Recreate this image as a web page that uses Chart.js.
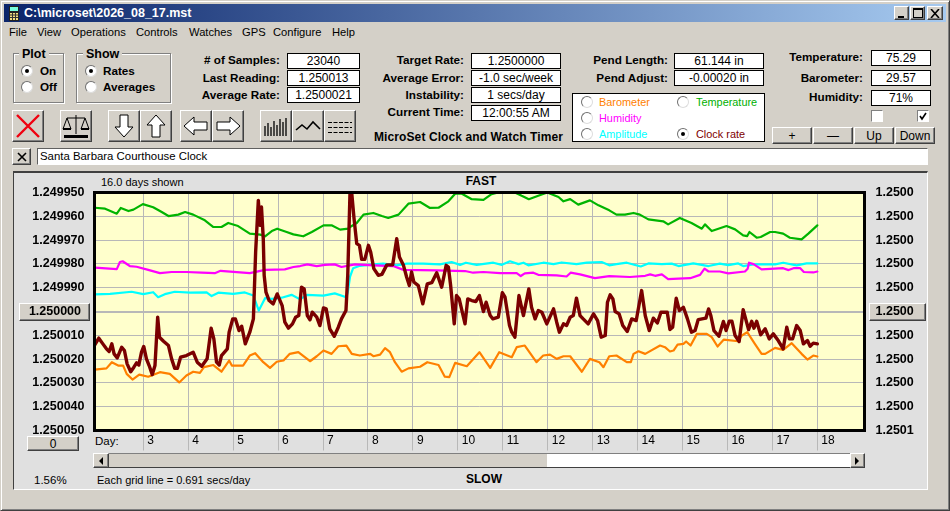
<!DOCTYPE html>
<html><head><meta charset="utf-8">
<script src="https://cdn.jsdelivr.net/npm/chart.js@4/dist/chart.umd.min.js"></script>
<style>
html,body{margin:0;padding:0;background:#d4d0c8;overflow:hidden}
#win{position:absolute;left:0;top:0;width:950px;height:511px;overflow:hidden;background:#d4d0c8;font:12px "Liberation Sans",Arial,sans-serif;color:#000}
#win div,#win span{position:absolute;white-space:nowrap;box-sizing:border-box}
canvas{position:absolute;left:0;top:0;pointer-events:none}
.btn{background:#d4d0c8;border:1px solid;border-color:#fff #404040 #404040 #fff;box-shadow:inset -1px -1px 0 #808080;display:flex;align-items:center;justify-content:center}
.fld{background:#fff;border:1px solid #000;text-align:center}
</style></head>
<body><div id="win"></div>
<canvas id="c" width="950" height="511"></canvas>
<script>
// Values: [day, rate offset from 1.25 in millionths]
const clockRate=[[1.92,14.0],[2.01,11.2],[2.10,13.6],[2.18,15.7],[2.24,16.8],[2.30,13.6],[2.35,17.8],[2.42,19.5],[2.52,15.0],[2.58,16.4],[2.64,22.0],[2.72,25.3],[2.79,23.4],[2.85,21.6],[2.90,22.5],[2.96,17.1],[3.01,14.7],[3.07,19.9],[3.13,22.7],[3.20,26.5],[3.26,22.7],[3.32,2.4],[3.36,10.8],[3.45,12.5],[3.56,14.3],[3.63,19.9],[3.70,23.9],[3.76,23.9],[3.83,19.2],[3.96,18.5],[4.11,17.1],[4.20,21.3],[4.30,23.0],[4.42,19.9],[4.51,7.0],[4.57,11.5],[4.63,21.3],[4.69,22.5],[4.74,18.5],[4.87,15.7],[4.91,8.7],[4.99,3.1],[5.05,3.1],[5.13,8.0],[5.19,6.2],[5.27,13.6],[5.37,8.7],[5.45,3.1],[5.50,-25.0],[5.56,-46.7],[5.60,-36.2],[5.63,-43.9],[5.67,-30.6],[5.69,-15.2],[5.73,-8.1],[5.80,-4.6],[5.89,-3.2],[5.98,-7.4],[6.09,-2.5],[6.15,4.5],[6.23,7.0],[6.32,5.2],[6.39,2.4],[6.46,1.7],[6.52,-10.2],[6.58,-9.5],[6.65,1.7],[6.71,3.5],[6.76,0.3],[6.86,2.4],[6.93,5.9],[7.01,-1.5],[7.07,-1.1],[7.15,7.3],[7.25,10.4],[7.34,6.6],[7.41,3.1],[7.51,-0.4],[7.55,-15.2],[7.60,-50.0],[7.64,-49.5],[7.69,-39.0],[7.75,-28.5],[7.81,-27.8],[7.86,-21.9],[7.93,-21.9],[8.01,-27.8],[8.06,-25.0],[8.13,-18.0],[8.23,-15.2],[8.31,-15.6],[8.42,-19.6],[8.55,-19.6],[8.64,-30.6],[8.70,-22.9],[8.79,-19.4],[8.86,-14.5],[8.92,-10.9],[8.97,-16.6],[9.02,-12.4],[9.12,-10.9],[9.22,-3.2],[9.32,-11.6],[9.42,-12.1],[9.53,-16.3],[9.64,-10.2],[9.74,-19.4],[9.79,-18.7],[9.84,-10.9],[9.92,5.2],[9.97,-6.7],[10.03,-5.3],[10.16,5.2],[10.22,-5.3],[10.31,-4.6],[10.40,-4.2],[10.48,-6.7],[10.57,0],[10.63,-3.9],[10.72,1.7],[10.78,3.1],[10.90,2.4],[10.99,-7.9],[11.05,-6.0],[11.15,5.9],[11.20,8.7],[11.27,10.8],[11.36,-6.7],[11.46,1.7],[11.58,-9.5],[11.64,-1.8],[11.72,3.1],[11.79,-0.4],[11.87,0.3],[11.98,5.2],[12.13,-1.1],[12.20,4.5],[12.26,8.7],[12.35,5.2],[12.42,5.9],[12.50,2.4],[12.57,1.7],[12.64,-5.6],[12.72,1.7],[12.79,3.1],[12.90,5.2],[13.02,1.0],[13.11,3.8],[13.19,10.8],[13.28,10.1],[13.33,-3.9],[13.39,-7.0],[13.45,-5.3],[13.50,0],[13.59,1.0],[13.67,5.9],[13.77,8.4],[13.87,3.1],[13.97,3.8],[14.09,-8.8],[14.17,1.7],[14.26,8.0],[14.35,2.8],[14.44,4.8],[14.52,0.3],[14.66,0.3],[14.72,7.6],[14.78,6.6],[14.86,-5.6],[14.93,-0.4],[15.02,-1.8],[15.11,3.1],[15.20,8.7],[15.28,8.0],[15.35,3.4],[15.52,2.8],[15.58,-1.1],[15.63,1.7],[15.70,8.0],[15.81,10.4],[15.91,4.2],[15.97,8.0],[16.04,4.1],[16.10,4.1],[16.17,10.1],[16.26,12.6],[16.35,-0.8],[16.47,7.6],[16.54,4.1],[16.59,7.0],[16.65,4.1],[16.74,9.8],[16.84,7.3],[16.93,11.5],[17.02,9.4],[17.13,12.2],[17.24,15.7],[17.32,6.6],[17.38,11.5],[17.45,11.5],[17.54,5.9],[17.62,8.0],[17.69,13.6],[17.78,12.2],[17.84,14.6],[17.91,13.3],[18.00,13.6]];
const temperature=[[1.92,-43.6],[2.15,-43.2],[2.41,-41.1],[2.50,-43.5],[2.67,-42.2],[2.78,-42.8],[2.99,-45.1],[3.22,-43.8],[3.41,-41.8],[3.56,-40.1],[3.78,-40.7],[3.93,-41.8],[4.11,-40.7],[4.37,-38.3],[4.56,-35.5],[4.74,-35.5],[4.89,-37.2],[5.11,-35.9],[5.37,-32.7],[5.60,-32.3],[5.71,-31.6],[5.86,-33.8],[5.98,-34.8],[6.19,-33.4],[6.34,-32.4],[6.56,-31.6],[6.75,-33.4],[7.01,-36.2],[7.19,-36.2],[7.38,-34.4],[7.56,-34.8],[7.60,-35.5],[7.75,-37.2],[7.90,-40.7],[8.12,-41.4],[8.31,-40.1],[8.45,-39.3],[8.68,-40.7],[8.90,-45.3],[9.16,-46.0],[9.38,-43.5],[9.57,-43.6],[9.79,-46.3],[9.94,-49.5],[10.09,-49.5],[10.31,-47.2],[10.57,-46.9],[10.75,-49.3],[10.94,-50.2],[11.27,-50.0],[11.42,-48.6],[11.58,-47.2],[11.79,-48.6],[11.99,-50.0],[12.24,-48.1],[12.35,-46.3],[12.50,-47.2],[12.68,-44.9],[12.94,-46.7],[13.13,-44.6],[13.37,-42.5],[13.53,-40.7],[13.72,-40.7],[13.91,-41.4],[14.05,-40.7],[14.24,-38.7],[14.57,-37.9],[14.68,-36.6],[14.94,-39.3],[15.20,-37.2],[15.43,-34.8],[15.50,-36.6],[15.65,-33.8],[15.98,-35.9],[16.17,-34.5],[16.35,-32.0],[16.44,-31.7],[16.49,-33.4],[16.65,-31.0],[16.74,-31.3],[16.95,-33.4],[17.06,-33.4],[17.24,-32.7],[17.39,-31.0],[17.65,-30.3],[17.80,-32.7],[18.00,-36.2]];
const humidity=[[1.92,-18.4],[2.41,-17.8],[2.48,-20.8],[2.54,-21.1],[2.70,-19.1],[2.85,-18.8],[3.11,-17.5],[3.37,-16.1],[3.63,-16.6],[3.96,-16.6],[4.30,-16.3],[4.59,-16.1],[4.72,-17.1],[5.37,-16.1],[5.71,-17.5],[6.15,-17.7],[6.34,-18.7],[6.49,-19.1],[6.65,-19.8],[6.86,-19.1],[7.04,-19.6],[7.26,-19.8],[7.41,-18.7],[7.71,-19.8],[8.12,-19.4],[8.56,-19.1],[8.79,-17.5],[9.53,-17.3],[10.16,-17.0],[10.34,-16.3],[10.57,-16.6],[10.94,-16.1],[11.31,-16.1],[11.40,-14.9],[11.49,-16.0],[11.68,-16.3],[11.79,-15.4],[12.20,-15.2],[12.42,-14.7],[12.51,-16.3],[12.72,-15.6],[13.05,-14.0],[13.37,-14.9],[13.83,-14.5],[14.17,-15.0],[14.28,-15.6],[14.39,-15.0],[14.54,-15.6],[14.68,-13.6],[14.91,-13.8],[15.17,-14.0],[15.39,-15.4],[15.49,-18.0],[15.58,-16.8],[15.83,-16.8],[16.02,-16.0],[16.39,-16.8],[16.45,-18.0],[16.48,-20.5],[16.58,-19.9],[16.76,-17.7],[17.24,-18.2],[17.36,-17.4],[17.47,-18.2],[17.62,-18.2],[17.70,-16.6],[17.91,-16.4],[18.00,-16.8]];
const amplitude=[[1.92,-7.2],[2.26,-7.4],[2.74,-8.3],[3.00,-7.3],[3.22,-8.1],[3.33,-6.0],[3.48,-7.3],[3.70,-8.3],[4.04,-7.9],[4.41,-8.0],[4.52,-6.5],[4.67,-7.9],[5.00,-7.4],[5.26,-8.0],[5.45,-6.7],[5.57,-0.4],[5.71,-5.6],[5.86,-5.3],[6.08,-5.8],[6.30,-7.0],[6.49,-5.1],[6.64,-7.0],[7.01,-6.7],[7.26,-7.6],[7.52,-6.0],[7.55,-8.1],[7.60,-14.5],[7.67,-18.2],[7.82,-19.2],[8.12,-19.8],[8.34,-20.1],[8.64,-19.4],[8.86,-20.1],[9.23,-20.1],[9.60,-19.8],[9.86,-20.8],[10.05,-19.6],[10.18,-20.5],[10.42,-19.6],[10.79,-20.5],[10.98,-19.6],[11.16,-21.1],[11.35,-19.9],[11.46,-20.5],[11.57,-19.4],[11.90,-20.5],[12.13,-19.9],[12.31,-20.6],[12.64,-19.9],[12.87,-20.5],[13.20,-20.8],[13.37,-19.4],[13.53,-19.9],[13.76,-20.5],[14.07,-18.9],[14.24,-20.2],[14.54,-19.9],[14.76,-20.1],[14.91,-19.1],[15.24,-20.2],[15.58,-19.1],[15.83,-20.1],[16.02,-19.5],[16.24,-20.2],[16.35,-19.1],[16.58,-19.8],[17.06,-19.8],[17.24,-20.5],[17.54,-19.4],[17.76,-20.2],[18.00,-20.2]];
const barometer=[[1.92,24.4],[2.18,23.9],[2.30,21.3],[2.44,22.7],[2.55,22.7],[2.63,26.2],[2.76,28.6],[2.91,26.5],[3.11,27.4],[3.37,25.5],[3.59,26.2],[3.80,29.8],[3.96,26.9],[4.11,25.3],[4.26,25.8],[4.35,23.4],[4.56,22.5],[4.74,25.3],[4.91,20.6],[4.97,22.7],[5.22,22.7],[5.37,18.5],[5.49,17.5],[5.67,21.3],[5.82,23.7],[5.97,21.1],[6.12,20.6],[6.26,17.8],[6.45,17.1],[6.71,20.9],[6.86,18.8],[7.01,16.4],[7.19,17.8],[7.34,14.6],[7.52,14.3],[7.64,17.8],[7.82,18.5],[8.05,17.8],[8.12,18.8],[8.27,18.1],[8.38,15.4],[8.49,17.1],[8.60,21.3],[8.75,25.3],[8.90,23.9],[9.16,23.2],[9.32,21.3],[9.57,22.5],[9.71,27.4],[9.81,27.6],[9.94,21.6],[10.20,23.0],[10.48,17.1],[10.72,23.7],[10.92,17.1],[11.20,19.2],[11.31,15.0],[11.49,14.3],[11.75,21.3],[11.90,18.5],[12.05,18.1],[12.20,19.9],[12.35,18.8],[12.50,18.8],[12.76,25.3],[12.94,19.9],[13.15,21.3],[13.24,23.4],[13.37,18.8],[13.53,18.5],[13.76,21.3],[13.85,21.3],[13.91,17.8],[14.02,16.7],[14.17,17.8],[14.50,14.3],[14.61,15.0],[14.72,16.8],[14.80,16.4],[14.89,13.9],[15.02,13.6],[15.08,12.6],[15.18,14.3],[15.32,9.4],[15.54,9.4],[15.65,10.8],[15.78,14.7],[15.92,11.8],[16.24,12.5],[16.32,10.1],[16.44,8.7],[16.61,13.6],[16.76,17.8],[16.84,17.8],[17.06,15.3],[17.24,16.1],[17.43,13.3],[17.65,17.8],[17.78,20.2],[17.91,18.5],[18.00,18.9]];
const dayTicks=[3,4,5,6,7,8,9,10,11,12,13,14,15,16,17,18];
const leftTickLabels=["1.249950","1.249960","1.249970","1.249980","1.249990","1.250000","1.250010","1.250020","1.250030","1.250040","1.250050"];
const rightTickLabels=["1.2500","1.2500","1.2500","1.2500","1.2500","1.2500","1.2500","1.2500","1.2500","1.2500","1.2501"];
const seriesNames=["Clock rate","Barometer","Temperature","Humidity","Amplitude"];
const rateTicks=leftTickLabels.map(Number);

// ---------- window chrome ----------
const W=document.getElementById('win');
function el(cls,x,y,w,h,html,css){const d=document.createElement('div');if(cls)d.className=cls;
  d.style.cssText=`left:${x}px;top:${y}px;`+(w!=null?`width:${w}px;`:'')+(h!=null?`height:${h}px;`:'')+(css||'');
  if(html!=null)d.innerHTML=html;W.appendChild(d);return d;}
function txt(x,cy,s,css){return el('',x,cy-8,null,16,s,'line-height:16px;'+(css||''));}
function rtxt(rx,cy,s,css){return el('',rx-220,cy-8,220,16,s,'text-align:right;line-height:16px;'+(css||''));}
function ctxt(cx,cy,s,css){return el('',cx-60,cy-8,120,16,s,'text-align:center;line-height:16px;'+(css||''));}
function fld(x1,y1,x2,y2,s){el('fld',x1,y1,x2-x1,y2-y1,s,`line-height:${y2-y1-2}px;`);}
function btn(x1,y1,x2,y2,s,css){return el('btn',x1,y1,x2-x1,y2-y1,s,css);}
function radio(cx,cy,on){const d=el('',cx-6,cy-6,12,12,on?'<span style="left:3px;top:3px;width:4px;height:4px;border-radius:50%;background:#000"></span>':'',
  'border-radius:50%;background:#fff;border:1px solid;border-color:#707070 #ddd #ddd #707070;');}
function bevelSvg(inner){return `<svg width="28" height="28" viewBox="0 0 28 28" style="display:block">${inner}</svg>`;}

el('',0,0,950,511,null,'border:1px solid;border-color:#d4d0c8 #404040 #404040 #d4d0c8;box-shadow:inset 1px 1px 0 #fff,inset -1px -1px 0 #808080;');
el('',4,4,942,18,null,'background:linear-gradient(90deg,#0a246a,#a6caf0);');
el('',9,6,10,15,'<svg width="10" height="15" style="display:block"><rect width="10" height="15" fill="#222"/><rect x="1" y="1" width="8" height="4" fill="#7fd"/><rect x="1" y="7" width="8" height="7" fill="#f4e080"/><path d="M1 9h8M1 11.5h8M3.5 7v7M6.5 7v7" stroke="#333"/></svg>');
txt(24,13,'C:\\microset\\2026_08_17.mst','color:#fff;font-weight:bold;font-size:12.5px;');
btn(894,6,909,20,'<svg width="9" height="9"><rect x="1" y="7" width="6" height="2"/></svg>');
btn(910,6,925,20,'<svg width="10" height="10"><rect x=".5" y=".5" width="9" height="9" fill="none" stroke="#000"/><rect y="0" width="10" height="2"/></svg>');
btn(927,6,943,20,'<svg width="10" height="9"><path d="M1 0l8 9M9 0l-8 9" stroke="#000" stroke-width="1.6"/></svg>');
[['File',9],['View',37],['Operations',71],['Controls',136],['Watches',189],['GPS',242],['Configure',273],['Help',332]].forEach(m=>txt(m[1],32,m[0],'font-size:11.2px;'));

function group(x,y,w,h,label,lx){el('',x,y,w,h,null,'border:1px solid #808080;box-shadow:1px 1px 0 #fff,inset 1px 1px 0 #fff;');
  txt(lx,54,label,'font-weight:bold;font-size:12.5px;background:#d4d0c8;padding:0 3px;');}
group(13,53,51,50,'Plot',19);group(76,53,95,50,'Show',83);
radio(27,71,true);radio(27,87,false);radio(91,71,true);radio(91,87,false);
const B='font-weight:bold;font-size:11.7px;';
txt(40,71,'On',B);txt(40,87,'Off',B);txt(103,71,'Rates',B);txt(103,87,'Averages',B);

rtxt(280,60,'# of Samples:',B);rtxt(280,78,'Last Reading:',B);rtxt(280,95,'Average Rate:',B);
fld(287,53,360,69,'23040');fld(287,70,360,86,'1.250013');fld(287,87,360,103,'1.2500021');
rtxt(464,60,'Target Rate:',B);rtxt(464,78,'Average Error:',B);rtxt(464,95,'Instability:',B);rtxt(464,112,'Current Time:',B);
fld(471,53,561,69,'1.2500000');fld(471,70,561,86,'-1.0 sec/week');fld(471,87,561,103,'1 secs/day');fld(471,105,561,121,'12:00:55 AM');
txt(374,137,'MicroSet Clock and Watch Timer','font-weight:bold;font-size:12px;letter-spacing:.1px;');
rtxt(668,60,'Pend Length:',B);rtxt(668,78,'Pend Adjust:',B);
fld(674,53,764,69,'61.144 in');fld(674,70,764,86,'-0.00020 in');
rtxt(863,57,'Temperature:',B);rtxt(863,78,'Barometer:',B);rtxt(863,97,'Humidity:',B);
fld(871,50,931,66,'75.29');fld(871,70,931,86,'29.57');fld(871,90,931,106,'71%');
el('',871,110,12,12,null,'background:#fff;border:1px solid;border-color:#808080 #fff #fff #808080;');
el('',917,110,12,12,'<svg width="10" height="10" style="display:block"><path d="M2 5l2 3 4-6" fill="none" stroke="#000" stroke-width="1.6"/></svg>','background:#fff;border:1px solid;border-color:#808080 #fff #fff #808080;');
btn(772,127,812,144,'+');btn(813,127,853,144,'—');btn(854,127,894,144,'Up');btn(895,127,935,144,'Down');

const L='font-size:10.9px;';
el('',572,93,193,49,null,'background:#fff;border:1px solid #000;');
radio(587,102,false);txt(599,102,seriesNames[1],L+'color:#ff8000;');
radio(683,102,false);txt(696,102,seriesNames[2],L+'color:#00b000;');
radio(587,118,false);txt(599,118,seriesNames[3],L+'color:#ff00ff;');
radio(587,134,false);txt(599,134,seriesNames[4],L+'color:#00ffff;');
radio(683,134,true);txt(696,134,seriesNames[0],L+'color:#800000;');

btn(12,110,44,142,bevelSvg('<path d="M3 3l22 22M25 3l-22 22" stroke="#f00010" stroke-width="2.4"/>'));
btn(60,110,92,142,bevelSvg('<path d="M14 3v19M5 6h18M5 6l-4 11h8zM23 6l-4 11h8z" fill="none" stroke="#000"/><path d="M1 17h8M19 17h8" stroke="#000" stroke-width="2"/><rect x="2" y="23" width="24" height="3"/>'));
const arrowP={d:'M10 3h8v12h5l-9 10-9-10h5z',u:'M10 25h8v-12h5l-9-10-9 10h5z',l:'M25 10v8h-13v5l-10-9 10-9v5z',r:'M3 10v8h13v5l10-9-10-9v5z'};
btn(108,110,140,142,bevelSvg(`<path d="${arrowP.d}" fill="#fff" stroke="#000"/>`));
btn(140,110,172,142,bevelSvg(`<path d="${arrowP.u}" fill="#fff" stroke="#000"/>`));
btn(180,110,212,142,bevelSvg(`<path d="${arrowP.l}" fill="#fff" stroke="#000"/>`));
btn(212,110,244,142,bevelSvg(`<path d="${arrowP.r}" fill="#fff" stroke="#000"/>`));
btn(260,110,292,142,bevelSvg('<path d="M3 24v-10M6 24v-13M9 24v-9M12 24v-15M15 24v-11M18 24v-17M21 24v-14M24 24v-18" stroke="#000" stroke-width="1.3"/>'));
btn(292,110,324,142,bevelSvg('<path d="M2 18l6-5 5 4 6-7 7 7" fill="none" stroke="#000" stroke-width="1.6"/>'));
btn(324,110,356,142,bevelSvg('<path d="M2 10.5h24M2 15.5h24M2 20.5h24" fill="none" stroke="#000" stroke-dasharray="4 1.5"/>'));

btn(12,148,31,165,'<svg width="10" height="10"><path d="M1 1l8 8M9 1l-8 8" stroke="#000" stroke-width="1.6"/></svg>');
el('',37,148,891,17,'<span style="left:2px;top:0;line-height:15px;font-size:11.4px">Santa Barbara Courthouse Clock</span>','background:#fff;border:1px solid;border-color:#606060 #fff #fff #606060;');

el('',13,171,915,319,null,'background:#e0e0e0;border:1px solid;border-color:#404040 #fff #fff #404040;border-top-width:2px;');
btn(19,303,90,321,'');btn(869,303,926,321,'');btn(27,436,79,451,'0');
txt(101,182,'16.0 days shown','font-size:11px;');
ctxt(481,181,'FAST','font-weight:bold;');
ctxt(484,479,'SLOW','font-weight:bold;');
txt(34,480,'1.56%','font-size:11.5px;');
txt(97,480,'Each grid line = 0.691 secs/day','font-size:11px;');
txt(95,441,'Day:','font-size:11.5px;');
el('',93,453,772,15,null,'background:#fff;border:1px solid;border-color:#808080 #404040 #404040 #808080;');
el('',109,454,438,13,null,'background:#d4d0c8;');
btn(93,453,109,468,'<svg width="5" height="8"><path d="M4 0v8L0 4z"/></svg>');
btn(850,453,865,468,'<svg width="5" height="8"><path d="M0 0v8l4-4z"/></svg>');

// ---------- chart ----------
const toXY=a=>a.map(p=>({x:p[0],y:1.25+p[1]/1e6}));
const line=(label,data,color,width)=>({label,data:toXY(data),borderColor:color,borderWidth:width,pointRadius:0,tension:0,fill:false,borderJoinStyle:'round',borderCapStyle:'round'});
const frame={id:'frame',
  beforeDraw(ch){const a=ch.chartArea,c=ch.ctx;c.save();c.fillStyle='#ffffcc';c.fillRect(a.left,a.top,a.width,a.height);c.restore();},
  afterDraw(ch){const a=ch.chartArea,c=ch.ctx;c.save();c.strokeStyle='#000';c.lineWidth=3;c.strokeRect(a.left,a.top,a.width,a.height);c.restore();}};
const tickFont={family:'"Liberation Sans",Arial,sans-serif',size:12.5,weight:'bold'};
new Chart(document.getElementById('c'),{
  type:'line',
  data:{datasets:[
    line(seriesNames[0],clockRate,'#7a0000',3.4),
    line(seriesNames[1],barometer,'#ff8000',2.2),
    line(seriesNames[3],humidity,'#ff00ff',2.2),
    line(seriesNames[4],amplitude,'#00ffff',2.2),
    line(seriesNames[2],temperature,'#00b400',2.2)
  ]},
  options:{responsive:false,animation:false,devicePixelRatio:1,normalized:true,
    layout:{padding:{left:0,right:0,top:192.5,bottom:20.5}},
    plugins:{legend:{display:false},tooltip:{enabled:false},title:{display:false}},
    scales:{
      x:{type:'linear',min:1.914,max:19.05,
        afterBuildTicks:s=>{s.ticks=dayTicks.map(v=>({value:v}));},
        afterFit:s=>{s.height=60;},
        border:{display:false},
        grid:{color:'#b8b8b8',lineWidth:1,tickLength:20,tickColor:'#b8b8b8'},
        ticks:{autoSkip:false,maxRotation:0,minRotation:0,align:'start',labelOffset:4,padding:-17,color:'#000',
          font:{family:tickFont.family,size:12},callback:v=>String(v)}},
      y:{type:'linear',position:'left',reverse:true,min:rateTicks[0],max:rateTicks[10],
        afterBuildTicks:s=>{s.ticks=rateTicks.map(v=>({value:v}));},
        afterFit:s=>{s.width=94.5;},
        border:{display:false},
        grid:{drawTicks:false,color:'#b8b8b8',lineWidth:c=>c.index===5?2:1},
        ticks:{autoSkip:false,padding:10,color:'#000',font:tickFont,callback:(v,i)=>i===5?leftTickLabels[i]+' ':leftTickLabels[i]}},
      y2:{type:'linear',position:'right',reverse:true,min:rateTicks[0],max:rateTicks[10],
        afterBuildTicks:s=>{s.ticks=rateTicks.map(v=>({value:v}));},
        afterFit:s=>{s.width=85.5;},
        border:{display:false},
        grid:{display:false,drawTicks:false},
        ticks:{autoSkip:false,padding:11,color:'#000',font:tickFont,callback:(v,i)=>rightTickLabels[i]}}
    }
  },
  plugins:[frame]
});
</script></body></html>
